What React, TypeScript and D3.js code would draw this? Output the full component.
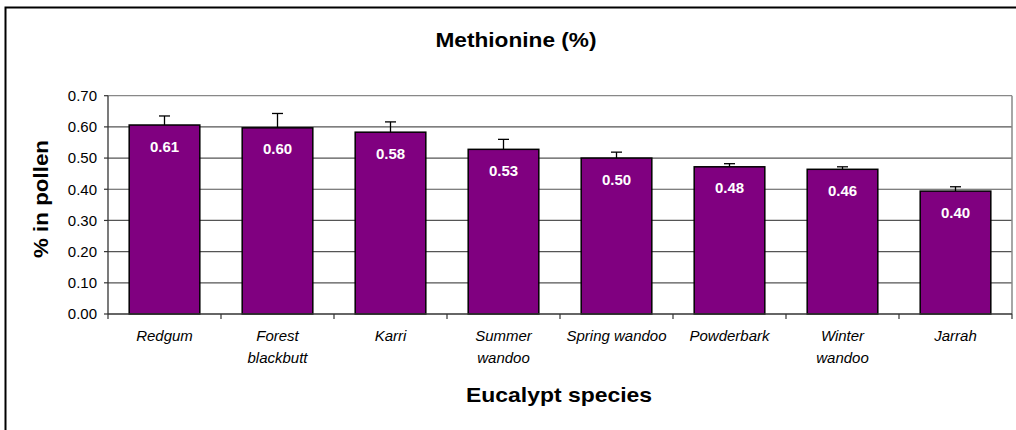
import React from "react";
import * as d3 from "d3";

const categories: string[][] = [
  ["Redgum"],
  ["Forest", "blackbutt"],
  ["Karri"],
  ["Summer", "wandoo"],
  ["Spring wandoo"],
  ["Powderbark"],
  ["Winter", "wandoo"],
  ["Jarrah"],
];
const values = [0.606, 0.597, 0.583, 0.528, 0.5, 0.472, 0.464, 0.394];
const errors = [0.029, 0.046, 0.033, 0.032, 0.019, 0.01, 0.008, 0.014];
const labels = ["0.61", "0.60", "0.58", "0.53", "0.50", "0.48", "0.46", "0.40"];
const yTicks = [0, 0.1, 0.2, 0.3, 0.4, 0.5, 0.6, 0.7];

const W = 1016;
const H = 430;
const left = 108;
const right = 1012;
const top = 95.7;
const bottom = 314;

export default function App() {
  const idx = categories.map((_, i) => String(i));
  const x = d3.scaleBand<string>().domain(idx).range([left, right]).paddingInner(0.375).paddingOuter(0.1875);
  const band = d3.scaleBand<string>().domain(idx).range([left, right]);
  const y = d3.scaleLinear().domain([0, 0.7]).range([bottom, top]);
  const font = "Arial, 'Liberation Sans', Helvetica, sans-serif";
  return (
    <svg width={W} height={H} style={{ position: "absolute", left: 0, top: 0 }} fontFamily={font}>
      <rect x={0} y={0} width={W} height={H} fill="#fff" />
      {/* outer border */}
      <path d={`M5.5,${H + 5} V7.5 H${W + 5}`} fill="none" stroke="#000" strokeWidth={2} />
      <text x={516} y={46.5} textAnchor="middle" fontSize={21} fontWeight="bold" textLength={161} lengthAdjust="spacingAndGlyphs">Methionine (%)</text>
      {/* gridlines */}
      {yTicks.slice(1).map((t) => (
        <line key={t} x1={left} x2={right} y1={y(t)} y2={y(t)} stroke={t === 0.7 ? "#888" : "#555"} strokeWidth={1.2} />
      ))}
      <line x1={right} x2={right} y1={top} y2={bottom} stroke="#888" strokeWidth={1.5} />
      {/* bars */}
      {values.map((v, i) => {
        const bx = x(String(i))!;
        const cx = bx + x.bandwidth() / 2;
        const yt = y(v);
        const ye = y(v + errors[i]);
        return (
          <g key={i}>
            <line x1={cx} x2={cx} y1={yt} y2={ye} stroke="#000" strokeWidth={1.3} />
            <line x1={cx - 5.5} x2={cx + 5.5} y1={ye} y2={ye} stroke="#000" strokeWidth={1.3} />
            <rect x={bx} y={yt} width={x.bandwidth()} height={bottom - yt} fill="#800080" stroke="#000" strokeWidth={1.5} />
            <text x={cx} y={yt + 26.5} textAnchor="middle" fill="#fff" fontWeight="bold" fontSize={15}>{labels[i]}</text>
          </g>
        );
      })}
      {/* axes */}
      <line x1={left} x2={left} y1={top} y2={bottom} stroke="#333" strokeWidth={1.3} />
      <line x1={left} x2={right} y1={bottom} y2={bottom} stroke="#333" strokeWidth={1.5} />
      {yTicks.map((t) => (
        <g key={t}>
          <line x1={left - 4} x2={left} y1={y(t)} y2={y(t)} stroke="#333" strokeWidth={1.2} />
          <text x={97} y={y(t) + 5.3} textAnchor="end" fontSize={15}>{t.toFixed(2)}</text>
        </g>
      ))}
      {idx.concat(["8"]).map((k, i) => {
        const xx = i < 8 ? band(k)! : right;
        return <line key={k} x1={xx} x2={xx} y1={bottom} y2={bottom + 5} stroke="#333" strokeWidth={1.2} />;
      })}
      {categories.map((lines, i) => {
        const cx = x(String(i))! + x.bandwidth() / 2;
        return (
          <text key={i} textAnchor="middle" fontStyle="italic" fontSize={15}>
            {lines.map((l, j) => (
              <tspan key={j} x={cx} y={340.5 + j * 22}>{l}</tspan>
            ))}
          </text>
        );
      })}
      <text x={559} y={402} textAnchor="middle" fontSize={21} fontWeight="bold" textLength={186} lengthAdjust="spacingAndGlyphs">Eucalypt species</text>
      <text transform={`translate(48,199) rotate(-90)`} textAnchor="middle" fontSize={21} fontWeight="bold" textLength={118} lengthAdjust="spacingAndGlyphs">% in pollen</text>
    </svg>
  );
}
